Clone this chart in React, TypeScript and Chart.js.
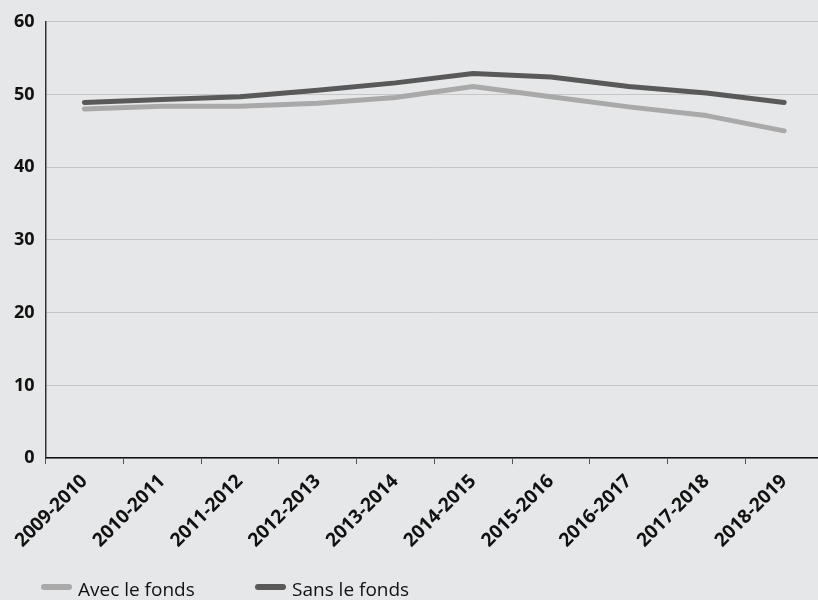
import React, { useEffect, useRef } from "react";
import { Chart, registerables } from "chart.js";

Chart.register(...registerables);

const categories = [
  "2009-2010", "2010-2011", "2011-2012", "2012-2013", "2013-2014",
  "2014-2015", "2015-2016", "2016-2017", "2017-2018", "2018-2019",
];
const avecLeFonds = [48.0, 48.4, 48.4, 48.8, 49.6, 51.1, 49.7, 48.3, 47.1, 45.0];
const sansLeFonds = [48.9, 49.3, 49.7, 50.6, 51.6, 52.9, 52.4, 51.1, 50.2, 48.9];
const yTicks = [0, 10, 20, 30, 40, 50, 60];
const seriesNames = ["Avec le fonds", "Sans le fonds"];

const BG = "#e6e7e8";
const LIGHT = "#a9a9a9";
const DARK = "#595959";
const FONT = "'Open Sans', 'DejaVu Sans', sans-serif";

// legend layout (pixels)
const LEGEND_X = [41, 255];
const LEGEND_MARK_Y = 587;
const LEGEND_TEXT_BASELINE = 596;

export default function App() {
  const ref = useRef<HTMLCanvasElement>(null);
  useEffect(() => {
    if (!ref.current) return;
    const bgPlugin = {
      id: "bg",
      beforeDraw(chart: any) {
        const ctx = chart.ctx;
        ctx.save();
        ctx.fillStyle = BG;
        ctx.fillRect(0, 0, chart.width, chart.height);
        ctx.restore();
      },
    };
    const legendPlugin = {
      id: "customLegend",
      afterDraw(chart: any) {
        const ctx = chart.ctx;
        ctx.save();
        chart.data.datasets.forEach((ds: any, i: number) => {
          const x = LEGEND_X[i];
          ctx.strokeStyle = ds.borderColor;
          ctx.lineWidth = 6;
          ctx.lineCap = "round";
          ctx.beginPath();
          ctx.moveTo(x + 3, LEGEND_MARK_Y);
          ctx.lineTo(x + 28, LEGEND_MARK_Y);
          ctx.stroke();
          ctx.fillStyle = "#111";
          ctx.font = `19px ${FONT}`;
          ctx.textBaseline = "alphabetic";
          ctx.textAlign = "left";
          ctx.fillText(ds.label, x + 37, LEGEND_TEXT_BASELINE);
        });
        ctx.restore();
      },
    };
    const chart = new Chart(ref.current, {
      type: "line",
      data: {
        labels: categories,
        datasets: [
          {
            label: seriesNames[0],
            data: avecLeFonds,
            borderColor: LIGHT,
            backgroundColor: LIGHT,
            borderWidth: 5,
            pointRadius: 0,
            tension: 0,
            borderCapStyle: "round",
            borderJoinStyle: "round",
          },
          {
            label: seriesNames[1],
            data: sansLeFonds,
            borderColor: DARK,
            backgroundColor: DARK,
            borderWidth: 5,
            pointRadius: 0,
            tension: 0,
            borderCapStyle: "round",
            borderJoinStyle: "round",
          },
        ],
      },
      options: {
        responsive: false,
        animation: false,
        layout: { padding: { left: 3, top: 12, right: 0, bottom: 42 } },
        plugins: {
          legend: { display: false },
          tooltip: { enabled: false },
        },
        scales: {
          x: {
            offset: true,
            grid: {
              offset: true,
              drawOnChartArea: false,
              drawTicks: true,
              tickLength: 6,
              tickColor: "#555",
            },
            border: { color: "#111", width: 1.5 },
            ticks: {
              font: { family: FONT, size: 19, weight: "bold" },
              color: "#111",
              maxRotation: 45,
              minRotation: 45,
              padding: 6,
              autoSkip: false,
            },
          },
          y: {
            min: 0,
            max: 60,
            afterBuildTicks(scale: any) {
              scale.ticks = yTicks.map((v) => ({ value: v }));
            },
            grid: { color: "#c6c6c6", drawTicks: false, lineWidth: 1 },
            border: { color: "#333", width: 1.5 },
            ticks: {
              font: { family: FONT, size: 18, weight: "bold" },
              color: "#111",
              padding: 11,
            },
          },
        },
      },
      plugins: [bgPlugin, legendPlugin],
    } as any);
    return () => chart.destroy();
  }, []);
  return (
    <div
      style={{
        position: "fixed",
        left: 0,
        top: 0,
        width: 818,
        height: 600,
        overflow: "hidden",
        background: BG,
      }}
    >
      <canvas ref={ref} width={823} height={600} style={{ display: "block" }} />
    </div>
  );
}
